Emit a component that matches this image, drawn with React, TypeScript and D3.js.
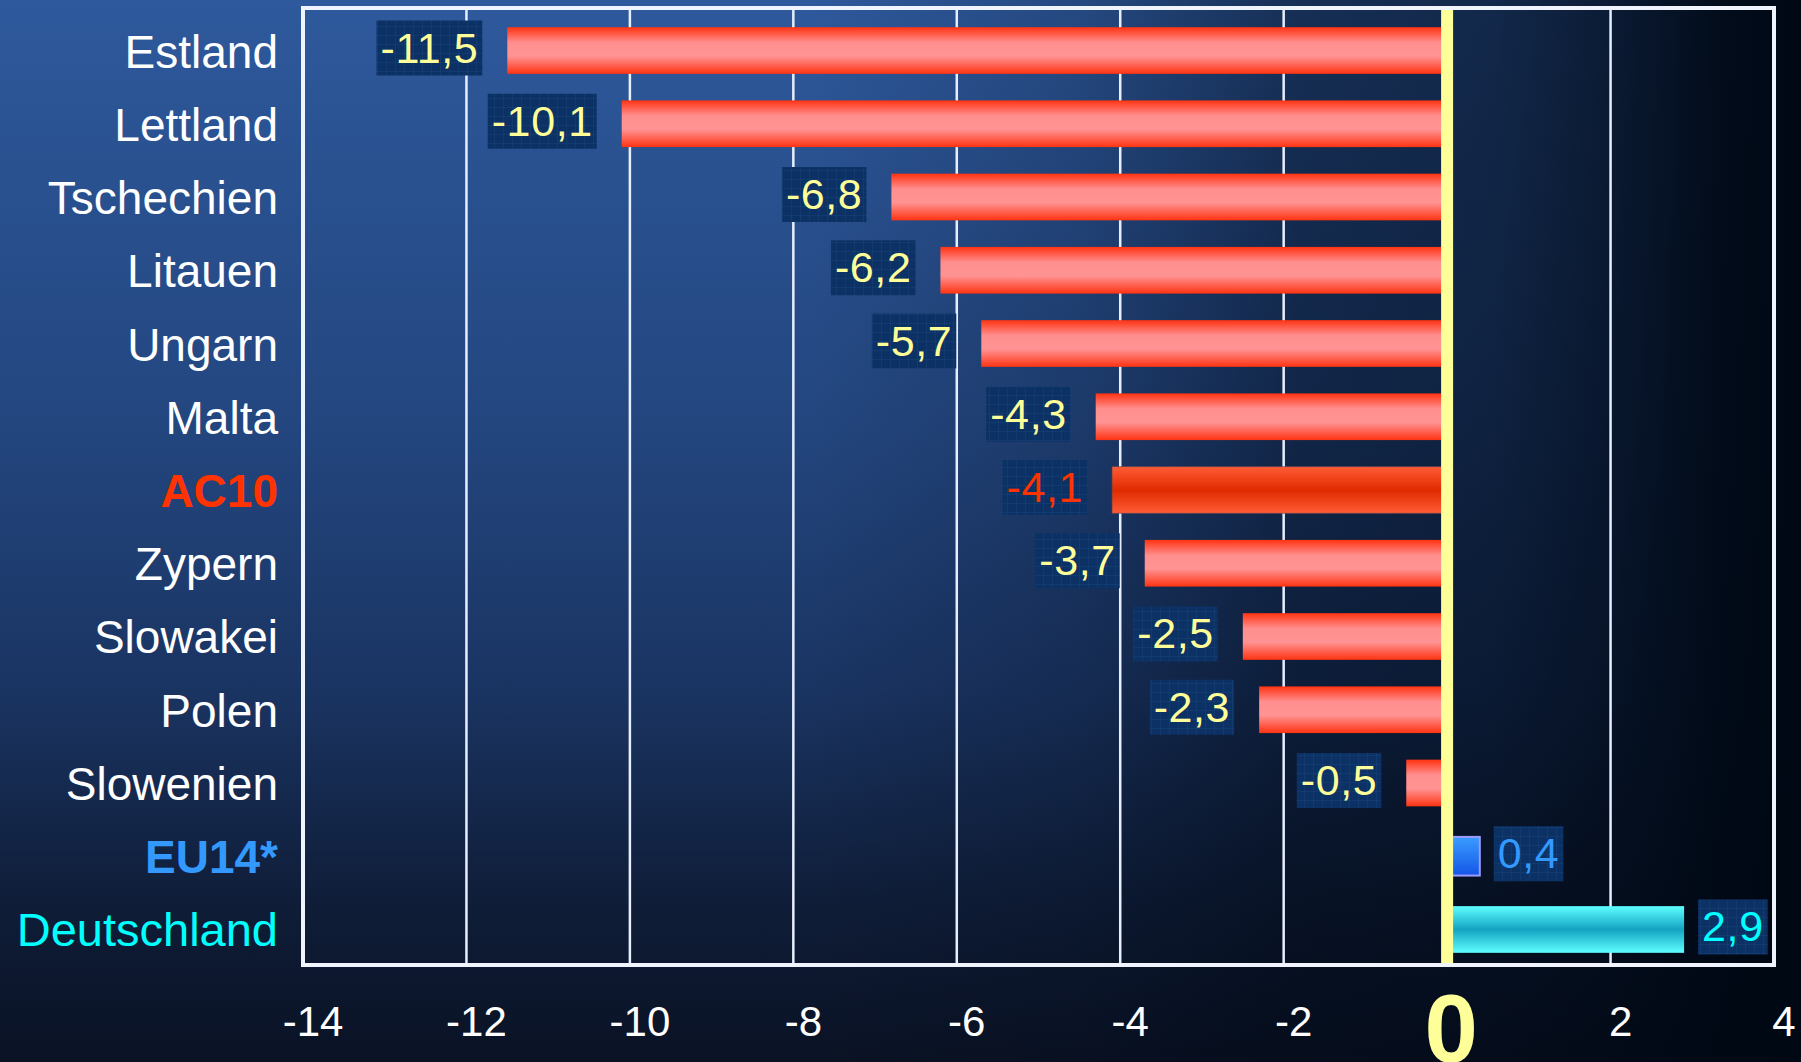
import React from 'react';
import * as d3 from 'd3';

// Veränderung in Prozentpunkten
const countries = [
  'Estland', 'Lettland', 'Tschechien', 'Litauen', 'Ungarn', 'Malta', 'AC10',
  'Zypern', 'Slowakei', 'Polen', 'Slowenien', 'EU14*', 'Deutschland',
];
const values = [-11.5, -10.1, -6.8, -6.2, -5.7, -4.3, -4.1, -3.7, -2.5, -2.3, -0.5, 0.4, 2.9];
const xTicks = [-14, -12, -10, -8, -6, -4, -2, 0, 2, 4];
const xDomain = [-14, 4];

const W = 1801;
const H = 1062;
const plot = { left: 303, right: 1774, top: 8, bottom: 965 };

const loc = d3.formatLocale({ decimal: ',', thousands: '.', grouping: [3], currency: ['', ' €'], minus: '-' });
const fmtVal = loc.format('.1f');
const fmtTick = loc.format('d');

// special styling for aggregates
const kindOf = (c: string) => (c === 'AC10' ? 'ac10' : c === 'EU14*' ? 'eu' : c === 'Deutschland' ? 'de' : 'land');
const labelColor: Record<string, string> = { land: '#ffffff', ac10: '#ff3300', eu: '#3399ff', de: '#00ffff' };
const valueColor: Record<string, string> = { land: '#ffff99', ac10: '#ff3300', eu: '#3399ff', de: '#00ffff' };
const barFill: Record<string, string> = { land: 'url(#gRed)', ac10: 'url(#gAc)', eu: 'url(#gEu)', de: 'url(#gDe)' };

const FONT = "'Liberation Sans', Arial, sans-serif";

let ctx: CanvasRenderingContext2D | null = null;
function textWidth(t: string, size: number, spacing = 0) {
  if (!ctx) ctx = document.createElement('canvas').getContext('2d');
  if (!ctx) return t.length * size * 0.5;
  ctx.font = `${size}px ${FONT}`;
  return ctx.measureText(t).width + spacing * t.length;
}

export default function App() {
  const x = d3.scaleLinear().domain(xDomain).range([plot.left, plot.right]);
  const y = d3.scaleBand<string>().domain(countries).range([14, 966]).paddingInner(0.363).paddingOuter(0.18);
  const bh = y.bandwidth();
  const x0 = x(0);

  return (
    <div style={{ position: 'absolute', left: 0, top: 0 }}>
      <svg width={W} height={H} style={{ display: 'block' }} fontFamily={FONT}>
        <defs>
          <linearGradient id="bgV" x1="0" y1="0" x2="0" y2="1">
            <stop offset="0" stopColor="#2e599c" />
            <stop offset="0.4" stopColor="#23467f" />
            <stop offset="0.65" stopColor="#1a3462" />
            <stop offset="0.85" stopColor="#0f1d38" />
            <stop offset="1" stopColor="#0a1224" />
          </linearGradient>
          <linearGradient id="bgH" x1="0" y1="0" x2="1" y2="0">
            <stop offset="0.45" stopColor="#000814" stopOpacity="0" />
            <stop offset="0.6" stopColor="#000814" stopOpacity="0.2" />
            <stop offset="0.72" stopColor="#000814" stopOpacity="0.52" />
            <stop offset="0.83" stopColor="#000814" stopOpacity="0.6" />
            <stop offset="0.89" stopColor="#000814" stopOpacity="0.75" />
            <stop offset="0.955" stopColor="#000814" stopOpacity="0.95" />
            <stop offset="1" stopColor="#000814" stopOpacity="1" />
          </linearGradient>
          <linearGradient id="gRed" x1="0" y1="0" x2="0" y2="1">
            <stop offset="0" stopColor="#ff3312" />
            <stop offset="0.33" stopColor="#ff8f8f" />
            <stop offset="0.62" stopColor="#ff9393" />
            <stop offset="1" stopColor="#ff3312" />
          </linearGradient>
          <linearGradient id="gAc" x1="0" y1="0" x2="0" y2="1">
            <stop offset="0" stopColor="#ff5c35" />
            <stop offset="0.5" stopColor="#e02a00" />
            <stop offset="1" stopColor="#ff5c35" />
          </linearGradient>
          <linearGradient id="gDe" x1="0" y1="0" x2="0" y2="1">
            <stop offset="0" stopColor="#5effff" />
            <stop offset="0.5" stopColor="#14a3c3" />
            <stop offset="1" stopColor="#5effff" />
          </linearGradient>
          <linearGradient id="gEu" x1="0" y1="0" x2="0" y2="1">
            <stop offset="0" stopColor="#3a9cff" />
            <stop offset="1" stopColor="#1456e6" />
          </linearGradient>
          <pattern id="boxGrid" width="9" height="9" patternUnits="userSpaceOnUse">
            <rect width="9" height="9" fill="#0b3165" />
            <path d="M9 0V9M0 9H9" stroke="#1a4278" strokeWidth="1" />
          </pattern>
        </defs>

        <rect width={W} height={H} fill="url(#bgV)" />
        <rect width={W} height={H} fill="url(#bgH)" />

        {/* grid */}
        {xTicks.filter(t => t > xDomain[0] && t < xDomain[1] && t !== 0).map(t => (
          <line key={t} x1={x(t)} x2={x(t)} y1={plot.top} y2={plot.bottom} stroke="#e6eeff" strokeWidth={2.5} />
        ))}

        {/* bars */}
        {countries.map((c, i) => {
          const v = values[i];
          const k = kindOf(c);
          const yb = y(c)!;
          const x1 = Math.min(x(v), x0);
          const w = Math.abs(x(v) - x0);
          return (
            <rect key={c} x={x1} y={k === 'eu' ? yb + 4 : yb} width={w} height={k === 'eu' ? bh - 8 : bh} fill={barFill[k]}
              stroke={k === 'eu' ? '#9c9cff' : k === 'ac10' ? 'rgba(90,70,90,0.6)' : 'none'}
              strokeWidth={k === 'eu' ? 2 : 1} />
          );
        })}

        {/* zero line */}
        <line x1={x0} x2={x0} y1={plot.top} y2={plot.bottom - 1} stroke="#ffff99" strokeWidth={12} />

        {/* frame */}
        <rect x={plot.left} y={plot.top} width={plot.right - plot.left} height={plot.bottom - plot.top}
          fill="none" stroke="#f0f4ff" strokeWidth={4} />

        {/* value labels */}
        {countries.map((c, i) => {
          const v = values[i];
          const k = kindOf(c);
          const cy = y(c)! + bh / 2 - 3;
          const txt = fmtVal(v);
          const tw = textWidth(txt, 43, 0.6);
          const bw = tw + 8;
          const bx = v < 0 ? x(v) - 25 - bw : x(v) + 14;
          return (
            <g key={c}>
              <rect x={bx} y={cy - 27} width={bw} height={55} fill="url(#boxGrid)" />
              <text x={bx + bw / 2} y={cy + 15} textAnchor="middle" fontSize={43} letterSpacing={0.6}
                fill={valueColor[k]}>{txt}</text>
            </g>
          );
        })}

        {/* category labels */}
        {countries.map(c => {
          const k = kindOf(c);
          return (
            <text key={c} x={278} y={y(c)! + bh / 2 + 17} textAnchor="end" fontSize={k === 'de' ? 47 : 46}
              fontWeight={k === 'ac10' || k === 'eu' ? 'bold' : 'normal'} fill={labelColor[k]}>{c}</text>
          );
        })}

        {/* x axis labels */}
        {xTicks.map(t => t === 0 ? (
          <text key={t} x={x(t) + 4} y={1062} textAnchor="middle" fontSize={96} fontWeight="bold" fill="#ffff99">{fmtTick(t)}</text>
        ) : (
          <text key={t} x={x(t) + 10} y={1036} textAnchor="middle" fontSize={42} fill="#ffffff">{fmtTick(t)}</text>
        ))}
      </svg>
    </div>
  );
}
